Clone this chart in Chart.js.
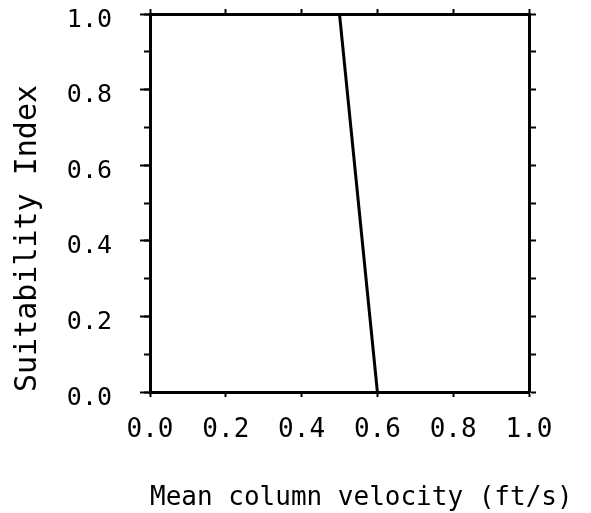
<!DOCTYPE html>
<html>
<head>
<meta charset="utf-8">
<script src="https://cdn.jsdelivr.net/npm/chart.js@4"></script>
<style>
  html, body { margin: 0; padding: 0; background: #fff; }
  #wrap { width: 591px; height: 513px; }
</style>
</head>
<body>
<div id="wrap"><canvas id="chart"></canvas></div>
<script>
// data
const velocity = [0.5, 0.6];
const suitability = [1.0, 0.0];
const xTicks = [0.0, 0.2, 0.4, 0.6, 0.8, 1.0];
const yTicks = [0.0, 0.2, 0.4, 0.6, 0.8, 1.0];
const xLabel = "Mean column velocity (ft/s)";
const yLabel = "Suitability Index";

const mono = "'DejaVu Sans Mono', monospace";
const ink = "#000";

const points = velocity.map((v, i) => ({ x: v, y: suitability[i] }));

const plain = (len) => ({
  drawOnChartArea: false,
  drawTicks: true,
  tickLength: len,
  tickWidth: 2,
  tickColor: ink,
});

// keep the tick label overhang out of the layout
const noPad = (s) => { s.paddingTop = 0; s.paddingBottom = 0; };

// x title is wider than the axis, chart.js would squeeze it
const xTitle = {
  id: "xTitle",
  afterDraw(chart) {
    const { ctx, scales } = chart;
    const x = scales.x;
    ctx.save();
    ctx.font = "26px " + mono;
    ctx.fillStyle = ink;
    ctx.textAlign = "left";
    ctx.textBaseline = "alphabetic";
    ctx.fillText(xLabel, x.left, x.bottom - 5);
    ctx.restore();
  },
};

const ctx = document.getElementById("chart").getContext("2d");

new Chart(ctx, {
  type: "scatter",
  data: {
    datasets: [
      {
        data: points,
        showLine: true,
        borderColor: ink,
        borderWidth: 3,
        pointRadius: 0,
        fill: false,
      },
    ],
  },
  options: {
    responsive: true,
    maintainAspectRatio: false,
    animation: false,
    layout: { padding: { left: 7, right: 55, top: 9, bottom: 3 } },
    plugins: { legend: { display: false }, tooltip: { enabled: false } },
    scales: {
      x: {
        type: "linear",
        position: "bottom",
        min: 0,
        max: 1,
        afterBuildTicks: (s) => { s.ticks = xTicks.map((v) => ({ value: v })); },
        afterFit: (s) => { s.height = 118; },
        grid: plain(5),
        border: { display: true, color: ink, width: 3 },
        ticks: {
          color: ink,
          padding: 18,
          font: { family: mono, size: 26 },
          callback: (v) => Number(v).toFixed(1),
        },
        title: { display: false },
      },
      xTop: {
        type: "linear",
        position: "top",
        min: 0,
        max: 1,
        afterBuildTicks: (s) => { s.ticks = xTicks.map((v) => ({ value: v })); },
        grid: plain(5),
        border: { display: true, color: ink, width: 3 },
        ticks: { display: false },
      },
      y: {
        type: "linear",
        position: "left",
        min: 0,
        max: 1,
        afterBuildTicks: (s) => { s.ticks = yTicks.map((v) => ({ value: v })); },
        afterFit: (s) => { s.width = 143; noPad(s); },
        grid: plain(10),
        border: { display: true, color: ink, width: 3 },
        ticks: {
          color: ink,
          padding: 28,
          labelOffset: 6,
          font: { family: mono, size: 25 },
          callback: (v) => Number(v).toFixed(1),
        },
        title: {
          display: true,
          text: yLabel,
          align: "start",
          color: ink,
          font: { family: mono, size: 30 },
          padding: { top: 3, bottom: 21 },
        },
      },
      yMinor: {
        type: "linear",
        position: { x: 0 },
        min: 0,
        max: 1,
        afterFit: noPad,
        ticks: { display: false, stepSize: 0.1 },
        grid: plain(6),
        border: { display: false },
      },
      yRight: {
        type: "linear",
        position: "right",
        min: 0,
        max: 1,
        afterFit: noPad,
        ticks: { display: false, stepSize: 0.1 },
        grid: plain(7),
        border: { display: true, color: ink, width: 3 },
      },
    },
  },
  plugins: [xTitle],
});
</script>
</body>
</html>
